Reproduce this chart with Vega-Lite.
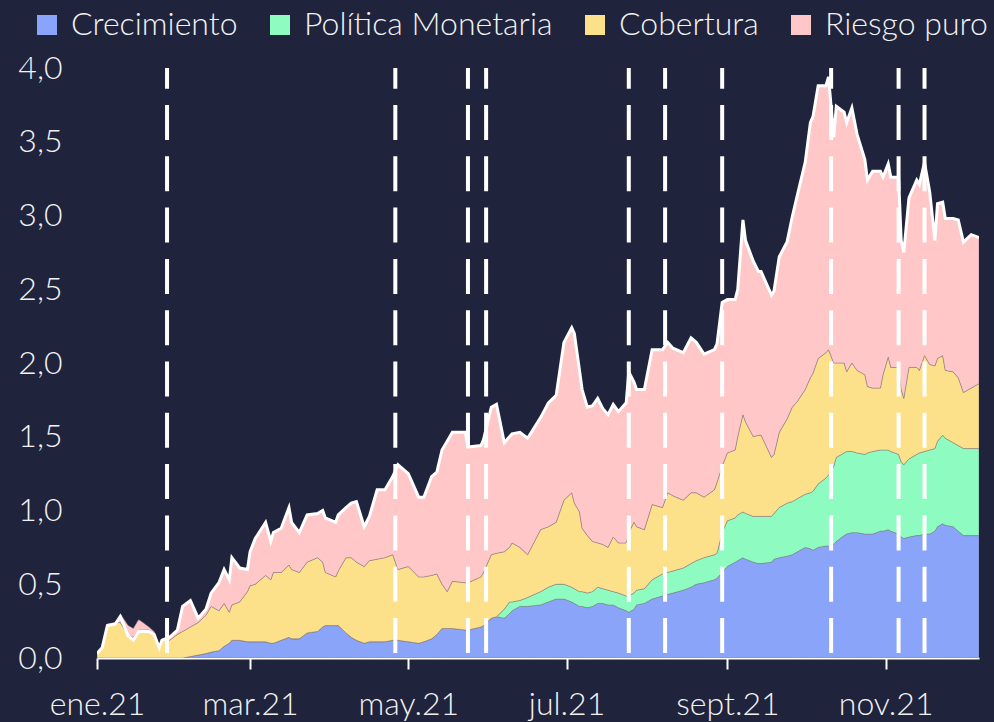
{
  "$schema": "https://vega.github.io/schema/vega-lite/v6.json",
  "width": 882,
  "height": 590,
  "autosize": {"type": "none"},
  "padding": {"left": 97, "top": 68, "right": 15, "bottom": 64},
  "background": "#1f233c",
  "config": {"view": {"stroke": null}, "font": "Lato"},
  "datasets": {
    "series": [
      {"k": "c", "s": "Crecimiento", "o": 1},
      {"k": "pm", "s": "Política Monetaria", "o": 2},
      {"k": "cob", "s": "Cobertura", "o": 3},
      {"k": "rp", "s": "Riesgo puro", "o": 4}
    ],
    "main": [
      {"d":"2021-01-01","c":0,"pm":-0.01,"cob":0.04,"rp":0},
      {"d":"2021-01-03","c":0,"pm":-0.01,"cob":0.08,"rp":0},
      {"d":"2021-01-05","c":0,"pm":-0.01,"cob":0.23,"rp":0},
      {"d":"2021-01-08","c":0,"pm":-0.01,"cob":0.24,"rp":0},
      {"d":"2021-01-10","c":0,"pm":-0.02,"cob":0.24,"rp":0.06},
      {"d":"2021-01-13","c":0,"pm":-0.07,"cob":0.15,"rp":0.07},
      {"d":"2021-01-15","c":0,"pm":-0.08,"cob":0.14,"rp":0.06},
      {"d":"2021-01-17","c":0,"pm":-0.08,"cob":0.19,"rp":0.07},
      {"d":"2021-01-18","c":0,"pm":-0.07,"cob":0.19,"rp":0.06},
      {"d":"2021-01-21","c":0,"pm":-0.03,"cob":0.19,"rp":0.02},
      {"d":"2021-01-23","c":0,"pm":-0.02,"cob":0.17,"rp":0.01},
      {"d":"2021-01-25","c":0,"pm":-0.01,"cob":0.08,"rp":0},
      {"d":"2021-01-26","c":0,"pm":-0.01,"cob":0.12,"rp":0.01},
      {"d":"2021-01-29","c":0,"pm":-0.01,"cob":0.12,"rp":0.03},
      {"d":"2021-02-01","c":0,"pm":0,"cob":0.16,"rp":0.03},
      {"d":"2021-02-03","c":0,"pm":0,"cob":0.18,"rp":0.17},
      {"d":"2021-02-06","c":0.01,"pm":0,"cob":0.20,"rp":0.18},
      {"d":"2021-02-09","c":0.02,"pm":0,"cob":0.22,"rp":0.03},
      {"d":"2021-02-12","c":0.03,"pm":0,"cob":0.26,"rp":0.04},
      {"d":"2021-02-14","c":0.04,"pm":0,"cob":0.31,"rp":0.09},
      {"d":"2021-02-17","c":0.05,"pm":0,"cob":0.27,"rp":0.19},
      {"d":"2021-02-19","c":0.08,"pm":0,"cob":0.29,"rp":0.23},
      {"d":"2021-02-21","c":0.10,"pm":0,"cob":0.21,"rp":0.22},
      {"d":"2021-02-22","c":0.12,"pm":0,"cob":0.24,"rp":0.32},
      {"d":"2021-02-25","c":0.12,"pm":0,"cob":0.26,"rp":0.23},
      {"d":"2021-02-28","c":0.11,"pm":0,"cob":0.34,"rp":0.15},
      {"d":"2021-03-01","c":0.11,"pm":0,"cob":0.38,"rp":0.23},
      {"d":"2021-03-03","c":0.11,"pm":0,"cob":0.39,"rp":0.31},
      {"d":"2021-03-07","c":0.11,"pm":0,"cob":0.45,"rp":0.36},
      {"d":"2021-03-09","c":0.10,"pm":0,"cob":0.43,"rp":0.26},
      {"d":"2021-03-10","c":0.10,"pm":0,"cob":0.48,"rp":0.27},
      {"d":"2021-03-13","c":0.12,"pm":0,"cob":0.46,"rp":0.30},
      {"d":"2021-03-16","c":0.14,"pm":0,"cob":0.49,"rp":0.39},
      {"d":"2021-03-17","c":0.13,"pm":0,"cob":0.47,"rp":0.32},
      {"d":"2021-03-20","c":0.13,"pm":0,"cob":0.45,"rp":0.27},
      {"d":"2021-03-23","c":0.17,"pm":0,"cob":0.48,"rp":0.32},
      {"d":"2021-03-27","c":0.18,"pm":0,"cob":0.50,"rp":0.30},
      {"d":"2021-03-29","c":0.21,"pm":0,"cob":0.44,"rp":0.35},
      {"d":"2021-03-30","c":0.22,"pm":0,"cob":0.36,"rp":0.37},
      {"d":"2021-04-03","c":0.22,"pm":0,"cob":0.33,"rp":0.37},
      {"d":"2021-04-04","c":0.22,"pm":0,"cob":0.37,"rp":0.38},
      {"d":"2021-04-07","c":0.17,"pm":0,"cob":0.51,"rp":0.34},
      {"d":"2021-04-09","c":0.14,"pm":0,"cob":0.54,"rp":0.37},
      {"d":"2021-04-11","c":0.12,"pm":0,"cob":0.53,"rp":0.41},
      {"d":"2021-04-14","c":0.10,"pm":0,"cob":0.52,"rp":0.27},
      {"d":"2021-04-16","c":0.11,"pm":0,"cob":0.55,"rp":0.30},
      {"d":"2021-04-19","c":0.11,"pm":0,"cob":0.56,"rp":0.47},
      {"d":"2021-04-22","c":0.11,"pm":0,"cob":0.57,"rp":0.46},
      {"d":"2021-04-25","c":0.12,"pm":0,"cob":0.58,"rp":0.53},
      {"d":"2021-04-27","c":0.12,"pm":0,"cob":0.48,"rp":0.71},
      {"d":"2021-05-01","c":0.11,"pm":0,"cob":0.51,"rp":0.63},
      {"d":"2021-05-05","c":0.10,"pm":0,"cob":0.45,"rp":0.54},
      {"d":"2021-05-07","c":0.11,"pm":0,"cob":0.44,"rp":0.54},
      {"d":"2021-05-10","c":0.13,"pm":0,"cob":0.43,"rp":0.67},
      {"d":"2021-05-12","c":0.16,"pm":0,"cob":0.41,"rp":0.69},
      {"d":"2021-05-14","c":0.20,"pm":0,"cob":0.30,"rp":0.91},
      {"d":"2021-05-16","c":0.20,"pm":0,"cob":0.25,"rp":1.02},
      {"d":"2021-05-18","c":0.20,"pm":0,"cob":0.32,"rp":1.01},
      {"d":"2021-05-23","c":0.19,"pm":0,"cob":0.32,"rp":1.02},
      {"d":"2021-05-24","c":0.19,"pm":0,"cob":0.32,"rp":0.92},
      {"d":"2021-05-29","c":0.21,"pm":0,"cob":0.34,"rp":0.89},
      {"d":"2021-05-30","c":0.22,"pm":0,"cob":0.36,"rp":0.90},
      {"d":"2021-06-02","c":0.27,"pm":0,"cob":0.43,"rp":1.00},
      {"d":"2021-06-04","c":0.28,"pm":0,"cob":0.43,"rp":1.01},
      {"d":"2021-06-07","c":0.27,"pm":0.06,"cob":0.39,"rp":0.74},
      {"d":"2021-06-09","c":0.30,"pm":0.08,"cob":0.37,"rp":0.75},
      {"d":"2021-06-10","c":0.32,"pm":0.06,"cob":0.40,"rp":0.74},
      {"d":"2021-06-13","c":0.35,"pm":0.04,"cob":0.36,"rp":0.78},
      {"d":"2021-06-16","c":0.35,"pm":0.06,"cob":0.29,"rp":0.79},
      {"d":"2021-06-21","c":0.36,"pm":0.09,"cob":0.42,"rp":0.76},
      {"d":"2021-06-24","c":0.38,"pm":0.10,"cob":0.41,"rp":0.84},
      {"d":"2021-06-27","c":0.40,"pm":0.10,"cob":0.42,"rp":0.86},
      {"d":"2021-06-30","c":0.40,"pm":0.10,"cob":0.57,"rp":1.07},
      {"d":"2021-07-03","c":0.38,"pm":0.10,"cob":0.64,"rp":1.12},
      {"d":"2021-07-04","c":0.37,"pm":0.10,"cob":0.58,"rp":1.15},
      {"d":"2021-07-06","c":0.35,"pm":0.10,"cob":0.54,"rp":0.96},
      {"d":"2021-07-07","c":0.35,"pm":0.10,"cob":0.43,"rp":0.94},
      {"d":"2021-07-09","c":0.34,"pm":0.10,"cob":0.39,"rp":0.87},
      {"d":"2021-07-11","c":0.35,"pm":0.10,"cob":0.34,"rp":0.92},
      {"d":"2021-07-13","c":0.37,"pm":0.11,"cob":0.30,"rp":0.98},
      {"d":"2021-07-15","c":0.37,"pm":0.10,"cob":0.30,"rp":0.92},
      {"d":"2021-07-17","c":0.36,"pm":0.10,"cob":0.29,"rp":0.90},
      {"d":"2021-07-19","c":0.36,"pm":0.09,"cob":0.37,"rp":0.90},
      {"d":"2021-07-21","c":0.34,"pm":0.10,"cob":0.34,"rp":0.89},
      {"d":"2021-07-24","c":0.32,"pm":0.10,"cob":0.36,"rp":0.95},
      {"d":"2021-07-25","c":0.31,"pm":0.11,"cob":0.43,"rp":1.09},
      {"d":"2021-07-27","c":0.33,"pm":0.11,"cob":0.48,"rp":0.95},
      {"d":"2021-07-28","c":0.36,"pm":0.10,"cob":0.43,"rp":0.93},
      {"d":"2021-07-31","c":0.37,"pm":0.10,"cob":0.40,"rp":0.95},
      {"d":"2021-08-03","c":0.40,"pm":0.13,"cob":0.51,"rp":1.05},
      {"d":"2021-08-07","c":0.42,"pm":0.15,"cob":0.45,"rp":1.07},
      {"d":"2021-08-09","c":0.43,"pm":0.15,"cob":0.54,"rp":1.02},
      {"d":"2021-08-11","c":0.44,"pm":0.15,"cob":0.51,"rp":1.00},
      {"d":"2021-08-15","c":0.46,"pm":0.15,"cob":0.46,"rp":1.00},
      {"d":"2021-08-18","c":0.48,"pm":0.16,"cob":0.48,"rp":1.05},
      {"d":"2021-08-20","c":0.50,"pm":0.16,"cob":0.46,"rp":1.02},
      {"d":"2021-08-23","c":0.51,"pm":0.17,"cob":0.41,"rp":0.97},
      {"d":"2021-08-27","c":0.53,"pm":0.17,"cob":0.44,"rp":0.95},
      {"d":"2021-08-28","c":0.54,"pm":0.17,"cob":0.48,"rp":0.94},
      {"d":"2021-08-30","c":0.58,"pm":0.27,"cob":0.45,"rp":1.11},
      {"d":"2021-09-01","c":0.62,"pm":0.31,"cob":0.46,"rp":1.04},
      {"d":"2021-09-04","c":0.65,"pm":0.30,"cob":0.46,"rp":1.02},
      {"d":"2021-09-05","c":0.66,"pm":0.31,"cob":0.53,"rp":1.00},
      {"d":"2021-09-07","c":0.68,"pm":0.31,"cob":0.66,"rp":1.32},
      {"d":"2021-09-08","c":0.67,"pm":0.31,"cob":0.62,"rp":1.23},
      {"d":"2021-09-11","c":0.65,"pm":0.31,"cob":0.54,"rp":1.19},
      {"d":"2021-09-13","c":0.64,"pm":0.32,"cob":0.55,"rp":1.11},
      {"d":"2021-09-14","c":0.64,"pm":0.32,"cob":0.55,"rp":1.11},
      {"d":"2021-09-18","c":0.65,"pm":0.31,"cob":0.40,"rp":1.10},
      {"d":"2021-09-19","c":0.67,"pm":0.31,"cob":0.40,"rp":1.11},
      {"d":"2021-09-21","c":0.68,"pm":0.34,"cob":0.51,"rp":1.19},
      {"d":"2021-09-24","c":0.69,"pm":0.36,"cob":0.57,"rp":1.20},
      {"d":"2021-09-26","c":0.70,"pm":0.36,"cob":0.64,"rp":1.29},
      {"d":"2021-09-28","c":0.72,"pm":0.36,"cob":0.66,"rp":1.40},
      {"d":"2021-10-01","c":0.75,"pm":0.36,"cob":0.71,"rp":1.54},
      {"d":"2021-10-03","c":0.74,"pm":0.38,"cob":0.78,"rp":1.73},
      {"d":"2021-10-04","c":0.73,"pm":0.40,"cob":0.80,"rp":1.74},
      {"d":"2021-10-06","c":0.75,"pm":0.43,"cob":0.85,"rp":1.85},
      {"d":"2021-10-09","c":0.76,"pm":0.46,"cob":0.85,"rp":1.81},
      {"d":"2021-10-10","c":0.76,"pm":0.48,"cob":0.85,"rp":1.85},
      {"d":"2021-10-12","c":0.77,"pm":0.53,"cob":0.70,"rp":1.53},
      {"d":"2021-10-13","c":0.79,"pm":0.57,"cob":0.64,"rp":1.74},
      {"d":"2021-10-16","c":0.83,"pm":0.56,"cob":0.61,"rp":1.70},
      {"d":"2021-10-17","c":0.84,"pm":0.56,"cob":0.54,"rp":1.69},
      {"d":"2021-10-19","c":0.85,"pm":0.55,"cob":0.60,"rp":1.73},
      {"d":"2021-10-21","c":0.85,"pm":0.54,"cob":0.56,"rp":1.60},
      {"d":"2021-10-24","c":0.84,"pm":0.54,"cob":0.54,"rp":1.46},
      {"d":"2021-10-25","c":0.84,"pm":0.55,"cob":0.45,"rp":1.40},
      {"d":"2021-10-27","c":0.84,"pm":0.56,"cob":0.43,"rp":1.47},
      {"d":"2021-10-30","c":0.86,"pm":0.55,"cob":0.42,"rp":1.47},
      {"d":"2021-10-31","c":0.86,"pm":0.55,"cob":0.51,"rp":1.34},
      {"d":"2021-11-02","c":0.87,"pm":0.54,"cob":0.63,"rp":1.31},
      {"d":"2021-11-03","c":0.86,"pm":0.54,"cob":0.57,"rp":1.29},
      {"d":"2021-11-06","c":0.84,"pm":0.54,"cob":0.59,"rp":1.29},
      {"d":"2021-11-07","c":0.82,"pm":0.51,"cob":0.49,"rp":1.01},
      {"d":"2021-11-08","c":0.81,"pm":0.50,"cob":0.45,"rp":0.99},
      {"d":"2021-11-10","c":0.82,"pm":0.53,"cob":0.62,"rp":1.15},
      {"d":"2021-11-13","c":0.83,"pm":0.55,"cob":0.59,"rp":1.27},
      {"d":"2021-11-14","c":0.83,"pm":0.56,"cob":0.56,"rp":1.26},
      {"d":"2021-11-16","c":0.84,"pm":0.56,"cob":0.65,"rp":1.31},
      {"d":"2021-11-18","c":0.84,"pm":0.57,"cob":0.58,"rp":1.17},
      {"d":"2021-11-20","c":0.86,"pm":0.56,"cob":0.56,"rp":0.85},
      {"d":"2021-11-21","c":0.89,"pm":0.58,"cob":0.56,"rp":1.05},
      {"d":"2021-11-23","c":0.91,"pm":0.60,"cob":0.54,"rp":1.04},
      {"d":"2021-11-24","c":0.90,"pm":0.59,"cob":0.46,"rp":1.03},
      {"d":"2021-11-27","c":0.89,"pm":0.57,"cob":0.48,"rp":1.04},
      {"d":"2021-11-29","c":0.86,"pm":0.58,"cob":0.46,"rp":1.07},
      {"d":"2021-12-01","c":0.83,"pm":0.59,"cob":0.38,"rp":1.02},
      {"d":"2021-12-04","c":0.83,"pm":0.59,"cob":0.41,"rp":1.04},
      {"d":"2021-12-07","c":0.83,"pm":0.59,"cob":0.44,"rp":0.99}
    ]
  },
  "encoding": {
    "x": {
      "field": "d",
      "type": "temporal",
      "title": null,
      "scale": {"type": "utc", "domain": [{"year": 2021, "month": 1, "date": 1, "utc": true}, {"year": 2021, "month": 12, "date": 7, "utc": true}]},
      "axis": {
        "values": [
          {"year": 2021, "month": 1, "date": 1, "utc": true},
          {"year": 2021, "month": 3, "date": 1, "utc": true},
          {"year": 2021, "month": 5, "date": 1, "utc": true},
          {"year": 2021, "month": 7, "date": 1, "utc": true},
          {"year": 2021, "month": 9, "date": 1, "utc": true},
          {"year": 2021, "month": 11, "date": 1, "utc": true}
        ],
        "labelExpr": "['ene','feb','mar','abr','may','jun','jul','ago','sept','oct','nov','dic'][utcmonth(datum.value)] + '.21'",
        "grid": false,
        "domainColor": "#ffffff",
        "domainWidth": 2,
        "tickColor": "#ffffff",
        "tickWidth": 2,
        "tickSize": 11,
        "labelPadding": 20,
        "labelFont": "Lato",
        "labelFontWeight": 300,
        "labelFontSize": 32,
        "labelColor": "#f2f2f2",
        "labelOverlap": false,
        "labelFlush": false
      }
    }
  },
  "layer": [
    {
      "data": {"name": "main"},
      "transform": [
        {"fold": ["c", "pm", "cob", "rp"], "as": ["k", "value"]},
        {"lookup": "k", "from": {"data": {"name": "series"}, "key": "k", "fields": ["s", "o"]}}
      ],
      "mark": {"type": "area", "clip": true, "interpolate": "linear", "stroke": "#857a86", "strokeWidth": 0.6, "strokeOpacity": 0.8},
      "encoding": {
        "y": {
          "field": "value",
          "type": "quantitative",
          "stack": "zero",
          "title": null,
          "scale": {"domain": [0, 4], "nice": false, "zero": true},
          "axis": {
            "values": [0, 0.5, 1, 1.5, 2, 2.5, 3, 3.5, 4],
            "labelExpr": "replace(format(datum.value, '.1f'), '.', ',')",
            "grid": false,
            "domain": false,
            "ticks": false,
            "labelPadding": 35,
            "labelFont": "Lato",
            "labelFontWeight": 300,
            "labelFontSize": 32,
            "labelColor": "#f2f2f2"
          }
        },
        "color": {
          "field": "s",
          "type": "nominal",
          "scale": {
            "domain": ["Crecimiento", "Política Monetaria", "Cobertura", "Riesgo puro"],
            "range": ["#8aa4fa", "#8efcc0", "#fde08a", "#ffc7c8"]
          },
          "legend": {
            "orient": "none",
            "legendX": -66,
            "legendY": -59,
            "direction": "horizontal",
            "title": null,
            "padding": 0,
            "columnPadding": 26,
            "labelOffset": 8,
            "symbolType": "square",
            "symbolSize": 400,
            "symbolStrokeWidth": 0,
            "symbolOpacity": 1,
            "labelFont": "Lato",
            "labelFontWeight": 300,
            "labelFontSize": 32,
            "labelColor": "#f2f2f2",
            "labelLimit": 400
          }
        },
        "order": {"field": "o", "type": "quantitative", "sort": "ascending"}
      }
    },
    {
      "data": {"name": "main"},
      "transform": [
        {"fold": ["c", "pm", "cob", "rp"], "as": ["k", "value"]}
      ],
      "mark": {"type": "line", "color": "#ffffff", "strokeWidth": 3, "clip": true, "interpolate": "linear"},
      "encoding": {
        "y": {"aggregate": "sum", "field": "value", "type": "quantitative", "title": null}
      }
    },
    {
      "data": {
        "values": [
          {"d": "2021-01-28"},
          {"d": "2021-04-26"},
          {"d": "2021-05-24"},
          {"d": "2021-05-31"},
          {"d": "2021-07-25"},
          {"d": "2021-08-08"},
          {"d": "2021-08-30"},
          {"d": "2021-10-11"},
          {"d": "2021-11-06"},
          {"d": "2021-11-16"}
        ]
      },
      "mark": {"type": "rule", "color": "#ffffff", "strokeWidth": 4, "strokeDash": [35, 16.3], "strokeDashOffset": 14.3},
      "encoding": {
        "y": {"datum": 4, "title": null},
        "y2": {"datum": 0}
      }
    }
  ]
}
